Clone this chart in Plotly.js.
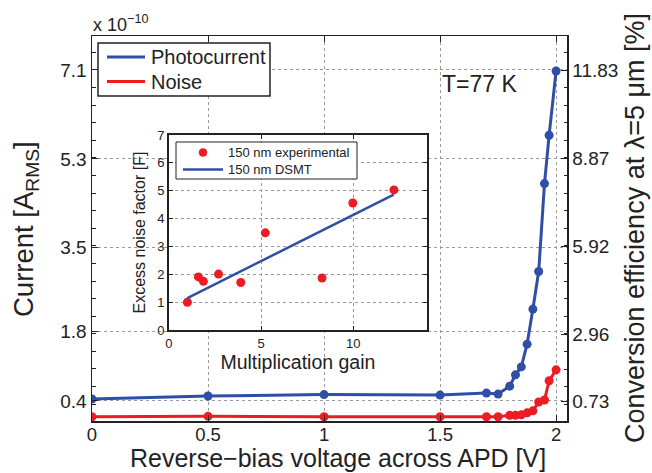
<!DOCTYPE html>
<html>
<head>
<meta charset="utf-8">
<script src="https://cdn.plot.ly/plotly-3.0.1.min.js"></script>
<style>html,body{margin:0;padding:0;background:#fff;}#chart{width:652px;height:473px;}</style>
</head>
<body>
<div id="chart"></div>
<script>
// Main chart data (current in units of 1e-10 A RMS)
var voltage = [0, 0.5, 1, 1.5, 1.7, 1.75, 1.8, 1.825, 1.85, 1.875, 1.9, 1.925, 1.95, 1.97, 2.0];
var photocurrent = [0.44, 0.50, 0.53, 0.52, 0.56, 0.54, 0.70, 0.93, 1.09, 1.55, 2.26, 3.02, 4.80, 5.78, 7.08];
var noise = [0.08, 0.09, 0.08, 0.08, 0.08, 0.08, 0.11, 0.11, 0.12, 0.16, 0.20, 0.38, 0.42, 0.81, 1.03];
var seriesNames = ['Photocurrent', 'Noise'];

// Axis tick labels
var xTicks = [0, 0.5, 1, 1.5, 2];
var xTickText = ['0', '0.5', '1', '1.5', '2'];
var currentTicks = [0.4, 1.8, 3.5, 5.3, 7.1];
var currentTickText = ['0.4', '1.8', '3.5', '5.3', '7.1'];
var efficiencyTicks = [0.73, 2.96, 5.92, 8.87, 11.83];
var efficiencyTickText = ['0.73', '2.96', '5.92', '8.87', '11.83'];

// Inset data
var gain = [1.0, 1.6, 1.87, 2.69, 3.9, 5.23, 8.31, 9.98, 12.21];
var excessNoise = [1.0, 1.91, 1.75, 2.01, 1.71, 3.49, 1.87, 4.56, 5.03];
var dsmtGain = [1.0, 12.2];
var dsmtF = [1.15, 4.86];
var insetNames = ['150 nm experimental', '150 nm DSMT'];

var BLUE = '#2f4ea6';
var RED = '#ec1c24';
var FONT = 'Liberation Sans, Arial, Helvetica, sans-serif';
var TXT = '#222';

// geometry helpers (pixel -> paper) for decorations
var W = 652, H = 473, ML = 92, MR = 85, MT = 36, MB = 52;
var PW = W - ML - MR, PH = H - MT - MB;
function px(x) { return (x - ML) / PW; }
function py(y) { return (H - MB - y) / PH; }

function minorTicks(t0, step, lo, hi) {
  var out = [], v;
  for (v = t0; v >= lo; v -= step) out.push(+v.toFixed(4));
  for (v = t0 + step; v <= hi; v += step) out.push(+v.toFixed(4));
  return out;
}
var yRange = [-0.005, 7.788];
var y2Range = [0.06, 12.97];

var traces = [
  {x: voltage, y: photocurrent, type: 'scatter', mode: 'lines+markers', name: seriesNames[0], showlegend: false,
   line: {color: BLUE, width: 3}, marker: {color: BLUE, size: 9}, xaxis: 'x', yaxis: 'y'},
  {x: voltage, y: noise, type: 'scatter', mode: 'lines+markers', name: seriesNames[1], showlegend: false,
   line: {color: RED, width: 3}, marker: {color: RED, size: 9}, xaxis: 'x', yaxis: 'y'},
  {x: [], y: [], type: 'scatter', mode: 'markers', showlegend: false, xaxis: 'x', yaxis: 'y2'},
  {x: gain, y: excessNoise, type: 'scatter', mode: 'markers', name: insetNames[0], showlegend: false,
   marker: {color: RED, size: 9}, xaxis: 'x3', yaxis: 'y3'},
  {x: dsmtGain, y: dsmtF, type: 'scatter', mode: 'lines', name: insetNames[1], showlegend: false,
   line: {color: BLUE, width: 2.5}, xaxis: 'x3', yaxis: 'y3'}
];

var gridCommon = {showgrid: true, gridcolor: '#9a9a9a', griddash: 'dot', gridwidth: 1, zeroline: false};

var shapes = [
  // main legend box
  {type: 'rect', xref: 'paper', yref: 'paper', x0: px(98), x1: px(270), y0: py(96), y1: py(43),
   fillcolor: '#fff', line: {color: '#222', width: 1.5}, layer: 'above'},
  {type: 'line', xref: 'paper', yref: 'paper', x0: px(107), x1: px(145), y0: py(57), y1: py(57),
   line: {color: BLUE, width: 3}, layer: 'above'},
  {type: 'line', xref: 'paper', yref: 'paper', x0: px(107), x1: px(145), y0: py(81.5), y1: py(81.5),
   line: {color: RED, width: 3}, layer: 'above'},
  // inset legend box
  {type: 'rect', xref: 'paper', yref: 'paper', x0: px(176), x1: px(357), y0: py(179), y1: py(142),
   fillcolor: '#fff', line: {color: '#222', width: 1}, layer: 'above'},
  {type: 'circle', xref: 'paper', yref: 'paper', x0: px(199), x1: px(207), y0: py(156.5), y1: py(148.5),
   fillcolor: RED, line: {color: RED, width: 0.5}, layer: 'above'},
  {type: 'line', xref: 'paper', yref: 'paper', x0: px(183), x1: px(223), y0: py(169.5), y1: py(169.5),
   line: {color: BLUE, width: 2.5}, layer: 'above'}
];

var annotations = [
  {text: 'x 10<sup>\u221210</sup>', xref: 'paper', yref: 'paper', x: px(91), y: py(37),
   xanchor: 'left', yanchor: 'bottom', showarrow: false, font: {size: 18, family: FONT, color: TXT}},
  {text: 'T=77 K', xref: 'paper', yref: 'paper', x: 0.733, y: 0.875,
   xanchor: 'left', yanchor: 'middle', showarrow: false, font: {size: 23, family: FONT, color: TXT}},
  // axis titles
  {text: 'Reverse\u2212bias voltage across APD [V]', xref: 'paper', yref: 'paper', x: px(338), y: py(458),
   xanchor: 'center', yanchor: 'middle', showarrow: false, font: {size: 25, family: FONT, color: TXT}},
  {text: 'Current [A<sub>RMS</sub>]', xref: 'paper', yref: 'paper', x: px(25), y: py(229),
   xanchor: 'center', yanchor: 'middle', textangle: -90, showarrow: false, font: {size: 27.5, family: FONT, color: TXT}},
  {text: 'Conversion efficiency at \u03bb=5 \u03bcm [%]', xref: 'paper', yref: 'paper', x: px(635), y: py(228),
   xanchor: 'center', yanchor: 'middle', textangle: -90, showarrow: false, font: {size: 27, family: FONT, color: TXT}},
  // legend texts
  {text: seriesNames[0], xref: 'paper', yref: 'paper', x: px(149), y: py(57),
   xanchor: 'left', yanchor: 'middle', showarrow: false, font: {size: 20, family: FONT, color: TXT}},
  {text: seriesNames[1], xref: 'paper', yref: 'paper', x: px(149), y: py(82),
   xanchor: 'left', yanchor: 'middle', showarrow: false, font: {size: 20, family: FONT, color: TXT}},
  {text: insetNames[0], xref: 'paper', yref: 'paper', x: px(226), y: py(152.5),
   xanchor: 'left', yanchor: 'middle', showarrow: false, font: {size: 13, family: FONT, color: TXT}},
  {text: insetNames[1], xref: 'paper', yref: 'paper', x: px(226), y: py(169.5),
   xanchor: 'left', yanchor: 'middle', showarrow: false, font: {size: 13, family: FONT, color: TXT}}
];

var layout = {
  width: W, height: H,
  margin: {l: ML, r: MR, t: MT, b: MB, pad: 0},
  paper_bgcolor: '#fff', plot_bgcolor: '#fff',
  font: {family: FONT, color: TXT, size: 19},
  showlegend: false,
  xaxis: Object.assign({}, gridCommon, {
    range: [0, 2.047], tickmode: 'array', tickvals: xTicks, ticktext: xTickText,
    ticks: 'inside', ticklen: 6, tickcolor: '#222', showline: true, linecolor: '#222', linewidth: 1.5,
    mirror: 'ticks', tickfont: {size: 18.5, family: FONT, color: TXT}, ticklabelstandoff: -4,
    anchor: 'y', automargin: false
  }),
  yaxis: Object.assign({}, gridCommon, {
    range: yRange, tickmode: 'array', tickvals: currentTicks, ticktext: currentTickText,
    ticks: 'inside', ticklen: 6, tickcolor: '#222', showline: true, linecolor: '#222', linewidth: 1.5,
    mirror: false, tickfont: {size: 19, family: FONT, color: TXT},
    minor: {ticks: 'inside', ticklen: 3.5, tickcolor: '#222', tickmode: 'array',
            tickvals: minorTicks(7.1, 0.356, yRange[0], yRange[1]), showgrid: false},
    anchor: 'x', automargin: false
  }),
  yaxis2: {
    overlaying: 'y', side: 'right', anchor: 'x',
    range: y2Range, tickmode: 'array', tickvals: efficiencyTicks, ticktext: efficiencyTickText,
    showgrid: false, zeroline: false,
    ticks: 'inside', ticklen: 6, tickcolor: '#222', showline: true, linecolor: '#222', linewidth: 1.5,
    tickfont: {size: 19, family: FONT, color: TXT},
    minor: {ticks: 'inside', ticklen: 3.5, tickcolor: '#222', tickmode: 'array',
            tickvals: minorTicks(11.83, 0.59, y2Range[0], y2Range[1]), showgrid: false},
    automargin: false
  },
  xaxis3: Object.assign({}, gridCommon, {
    domain: [0.162, 0.705], anchor: 'y3', range: [0, 14],
    tickmode: 'array', tickvals: [0, 5, 10], ticktext: ['0', '5', '10'],
    ticks: 'inside', ticklen: 4, tickcolor: '#222', showline: true, linecolor: '#222', linewidth: 1.8,
    mirror: 'ticks', tickfont: {size: 13, family: FONT, color: TXT},
    title: {text: 'Multiplication gain', font: {size: 19.5, family: FONT, color: TXT}, standoff: 1},
    automargin: false
  }),
  yaxis3: Object.assign({}, gridCommon, {
    domain: [0.236, 0.743], anchor: 'x3', range: [0, 7],
    tickmode: 'linear', tick0: 0, dtick: 1,
    ticks: 'inside', ticklen: 4, tickcolor: '#222', showline: true, linecolor: '#222', linewidth: 1.8,
    mirror: 'ticks', tickfont: {size: 13, family: FONT, color: TXT},
    title: {text: 'Excess noise factor [F]', font: {size: 16, family: FONT, color: TXT}, standoff: 8},
    automargin: false
  }),
  shapes: shapes,
  annotations: annotations
};

Plotly.newPlot('chart', traces, layout, {displayModeBar: false, staticPlot: true});
</script>
</body>
</html>
